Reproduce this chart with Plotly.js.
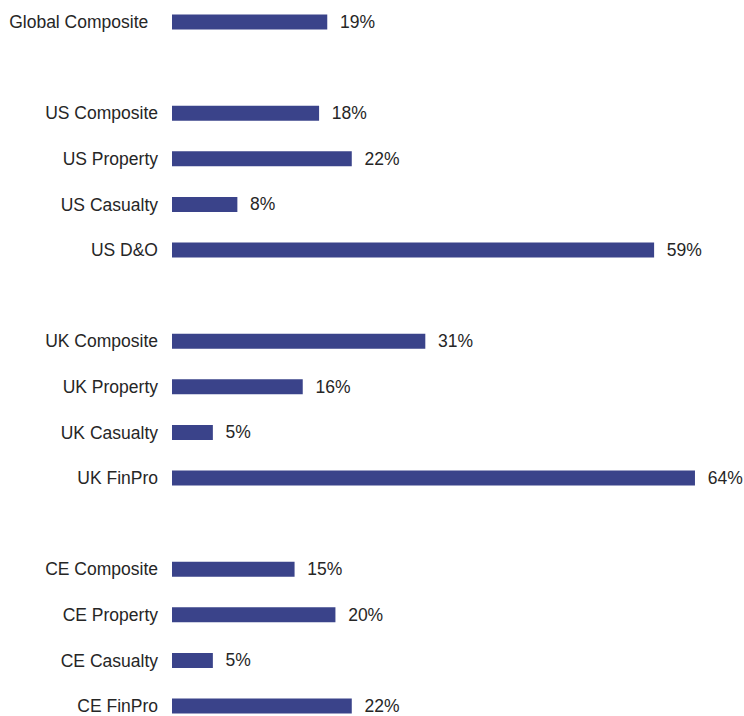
<!DOCTYPE html>
<html>
<head>
<meta charset="utf-8">
<script src="https://cdn.plot.ly/plotly-3.0.1.min.js"></script>
<style>html,body{margin:0;padding:0;background:#fff;}#chart{width:744px;height:716px;}</style>
</head>
<body>
<div id="chart"></div>
<script>
// Data
const categories = [
  "Global Composite",
  "US Composite", "US Property", "US Casualty", "US D&O",
  "UK Composite", "UK Property", "UK Casualty", "UK FinPro",
  "CE Composite", "CE Property", "CE Casualty", "CE FinPro"
];
const values = [19, 18, 22, 8, 59, 31, 16, 5, 64, 15, 20, 5, 22];
// Row order including blank spacer rows between groups
const rowOrder = [
  "Global Composite", " ",
  "US Composite", "US Property", "US Casualty", "US D&O", "  ",
  "UK Composite", "UK Property", "UK Casualty", "UK FinPro", "   ",
  "CE Composite", "CE Property", "CE Casualty", "CE FinPro"
];
const rowLabels = rowOrder.map(c => c === "Global Composite" ? c + "\u00A0\u00A0" : c);

const FONT = "Liberation Sans, Arial, sans-serif";

const trace = {
  type: "bar",
  orientation: "h",
  y: categories,
  x: values,
  width: 0.33,
  marker: {color: "#3a438a"},
  text: values.map(v => v + "%"),
  texttemplate: "\u00A0\u00A0%{text}",
  textposition: "outside",
  constraintext: "none",
  cliponaxis: false,
  textfont: {family: FONT, size: 17.5, color: "#262626"},
  hoverinfo: "skip"
};

const layout = {
  width: 744, height: 716,
  margin: {l: 172, r: 0, t: 0, b: 0},
  paper_bgcolor: "#ffffff", plot_bgcolor: "#ffffff",
  showlegend: false,
  font: {family: FONT, size: 17.5, color: "#262626"},
  xaxis: {range: [0, 70], visible: false, showgrid: false, zeroline: false, fixedrange: true},
  yaxis: {
    type: "category",
    categoryorder: "array",
    categoryarray: rowOrder,
    tickvals: rowOrder,
    ticktext: rowLabels,
    range: [15.219, -0.4825],
    showgrid: false, zeroline: false, showline: false, ticks: "",
    ticklabelstandoff: 13,
    tickfont: {family: FONT, size: 17.5, color: "#262626"},
    fixedrange: true
  }
};

Plotly.newPlot("chart", [trace], layout, {displayModeBar: false, staticPlot: true});
</script>
</body>
</html>
